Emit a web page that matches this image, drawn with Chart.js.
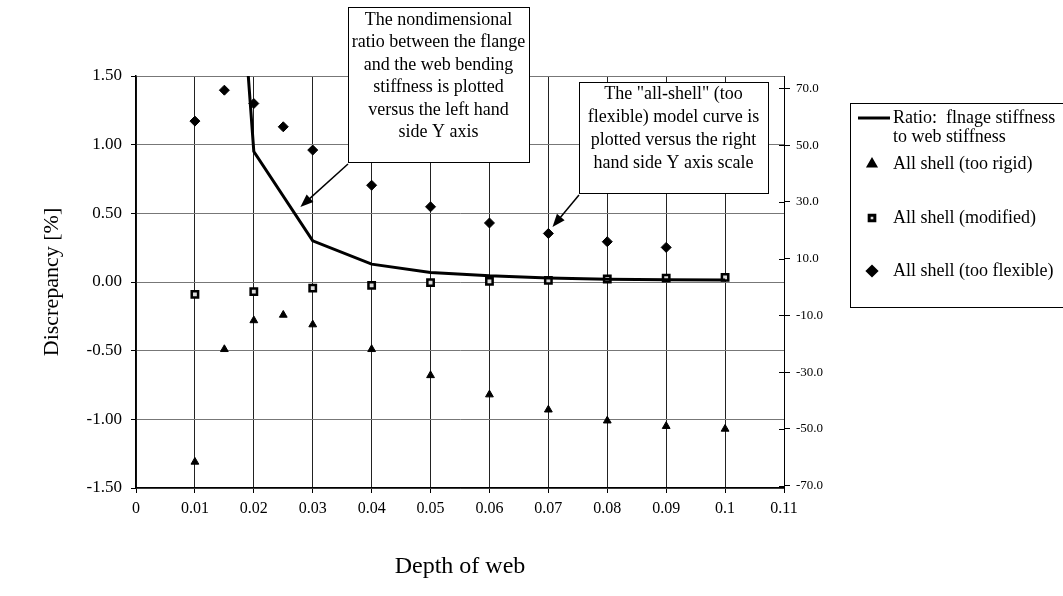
<!DOCTYPE html>
<html>
<head>
<meta charset="utf-8">
<script src="https://cdn.jsdelivr.net/npm/chart.js@4.4.1/dist/chart.umd.min.js"></script>
<style>
  html, body { margin: 0; padding: 0; background: #fff; }
</style>
</head>
<body>
<canvas id="myChart" width="1063" height="596"></canvas>
<script>
// axis ticks
const xTicks = [0, 0.01, 0.02, 0.03, 0.04, 0.05, 0.06, 0.07, 0.08, 0.09, 0.1, 0.11]
const leftTicks = [-1.5, -1, -0.5, 0, 0.5, 1, 1.5]
const rightTicks = [-70, -50, -30, -10, 10, 30, 50, 70]

// ratio flange / web stiffness (left axis)
const ratioDepth = [0.01, 0.02, 0.03, 0.04, 0.05, 0.06, 0.07, 0.08, 0.09, 0.1]
const ratioValues = [6.8, 0.95, 0.30, 0.13, 0.07, 0.045, 0.03, 0.02, 0.017, 0.015]

// all shell (too rigid) (left axis)
const rigidDepth = [0.01, 0.015, 0.02, 0.025, 0.03, 0.04, 0.05, 0.06, 0.07, 0.08, 0.09, 0.1]
const rigidValues = [-1.31, -0.49, -0.28, -0.24, -0.31, -0.49, -0.68, -0.82, -0.93, -1.01, -1.05, -1.07]

// all shell (modified) (left axis)
const modDepth = [0.01, 0.02, 0.03, 0.04, 0.05, 0.06, 0.07, 0.08, 0.09, 0.1]
const modValues = [-0.09, -0.07, -0.045, -0.025, -0.005, 0.005, 0.012, 0.022, 0.028, 0.034]

// all shell (too flexible) (right axis)
const flexDepth = [0.01, 0.015, 0.02, 0.025, 0.03, 0.04, 0.05, 0.06, 0.07, 0.08, 0.09]
const flexValues = [58.5, 69.4, 64.7, 56.5, 48.3, 35.9, 28.3, 22.6, 18.9, 16.0, 14.0]

const FONT = "'Liberation Serif', 'Times New Roman', serif"

function pts(xs, ys) {
    return xs.map((x, i) => ({ x: x, y: ys[i] }))
}

// callout boxes, arrow tips given in data units
const notes = [
    {
        lines: ['The nondimensional', 'ratio between the flange', 'and the web bending',
            'stiffness is plotted', 'versus the left hand', 'side Y axis'],
        box: [348, 7, 529, 162], lineY: 20, lineStep: 22.5,
        tip: { x: 0.0279, y: 0.546, axis: 'y' }
    },
    {
        lines: ['The "all-shell" (too', 'flexible) model curve is',
            'plotted versus the right', 'hand side Y axis scale'],
        box: [579, 82, 768, 193], lineY: 94, lineStep: 23,
        tip: { x: 0.0707, y: 21.2, axis: 'y2' }
    }
]

const calloutPlugin = {
    id: 'callouts',
    afterDraw(chart) {
        const c = chart.ctx
        const xs = chart.scales.x
        c.save()
        notes.forEach(n => {
            const [l, t, r, b] = n.box
            c.fillStyle = '#fff'
            c.fillRect(l, t, r - l, b - t)
            c.strokeStyle = '#000'
            c.lineWidth = 1
            c.strokeRect(l + 0.5, t + 0.5, r - l, b - t)
            c.fillStyle = '#000'
            c.font = '18px ' + FONT
            c.textAlign = 'center'
            c.textBaseline = 'middle'
            n.lines.forEach((s, i) => c.fillText(s, (l + r) / 2, n.lineY + i * n.lineStep))

            // arrow
            const tx = xs.getPixelForValue(n.tip.x)
            const ty = chart.scales[n.tip.axis].getPixelForValue(n.tip.y)
            const sx = l, sy = b + 2
            const ang = Math.atan2(ty - sy, tx - sx)
            c.beginPath()
            c.moveTo(sx, sy)
            c.lineTo(tx - Math.cos(ang) * 8, ty - Math.sin(ang) * 8)
            c.lineWidth = 1.5
            c.stroke()
            c.beginPath()
            c.moveTo(tx, ty)
            c.lineTo(tx - Math.cos(ang) * 13 + Math.sin(ang) * 5, ty - Math.sin(ang) * 13 - Math.cos(ang) * 5)
            c.lineTo(tx - Math.cos(ang) * 13 - Math.sin(ang) * 5, ty - Math.sin(ang) * 13 + Math.cos(ang) * 5)
            c.closePath()
            c.fill()
        })
        c.restore()
    }
}

const legendPlugin = {
    id: 'sideLegend',
    afterDraw(chart) {
        const c = chart.ctx
        const ds = chart.data.datasets
        c.save()

        // inner half of the right axis tick marks
        const r = chart.scales.y2
        c.strokeStyle = '#000'
        c.lineWidth = 1
        rightTicks.forEach(v => {
            const y = Math.round(r.getPixelForValue(v)) + 0.5
            c.beginPath()
            c.moveTo(r.left - 5, y)
            c.lineTo(r.left, y)
            c.stroke()
        })

        c.strokeRect(850.5, 103.5, 240, 204)
        c.fillStyle = '#000'
        c.font = '18px ' + FONT
        c.textAlign = 'left'
        c.textBaseline = 'middle'

        // line entry
        c.beginPath()
        c.moveTo(858, 118)
        c.lineTo(890, 118)
        c.lineWidth = 3
        c.stroke()
        c.fillText('Ratio:  flnage stiffness', 893, 118)
        c.fillText('to web stiffness', 893, 137)

        const rows = [[1, 164], [2, 218], [3, 271]]
        rows.forEach(([i, y]) => {
            const d = ds[i]
            c.fillStyle = d.backgroundColor
            c.strokeStyle = d.borderColor
            Chart.helpers.drawPoint(c, {
                pointStyle: d.pointStyle, radius: d.pointRadius - 0.5,
                borderWidth: d.pointBorderWidth || 1, rotation: 0
            }, 872, y)
            c.fillStyle = '#000'
            c.fillText(d.label, 893, y)
        })
        c.restore()
    }
}

const chartData = {
    type: 'scatter',
    data: {
        datasets: [{
            type: 'line',
            label: 'Ratio:  flnage stiffness to web stiffness',
            data: pts(ratioDepth, ratioValues),
            yAxisID: 'y',
            borderColor: '#000',
            borderWidth: 3,
            pointRadius: 0,
            tension: 0,
            order: 0
        }, {
            label: 'All shell (too rigid)',
            data: pts(rigidDepth, rigidValues),
            yAxisID: 'y',
            pointStyle: 'triangle',
            pointRadius: 4.5,
            pointBorderWidth: 1,
            backgroundColor: '#000',
            borderColor: '#000',
            order: 1
        }, {
            label: 'All shell (modified)',
            data: pts(modDepth, modValues),
            yAxisID: 'y',
            pointStyle: 'rect',
            pointRadius: 4.5,
            pointBorderWidth: 2.5,
            backgroundColor: '#ddd',
            borderColor: '#000',
            order: 2
        }, {
            label: 'All shell (too flexible)',
            data: pts(flexDepth, flexValues),
            yAxisID: 'y2',
            pointStyle: 'rectRot',
            pointRadius: 5,
            pointBorderWidth: 1,
            backgroundColor: '#000',
            borderColor: '#000',
            order: 3
        }]
    },
    options: {
        responsive: false,
        animation: false,
        layout: { padding: { top: 76, left: 0, right: 0, bottom: 0 } },
        plugins: {
            legend: { display: false },
            tooltip: { enabled: false }
        },
        scales: {
            x: {
                type: 'linear',
                min: 0, max: 0.11,
                afterBuildTicks: s => { s.ticks = xTicks.map(v => ({ value: v })) },
                afterFit: s => { s.height = 108 },
                grid: { color: '#222', lineWidth: 1, tickLength: 5, tickColor: '#000' },
                border: { color: '#000', width: 1.5 },
                ticks: {
                    color: '#000', padding: 6,
                    font: { family: FONT, size: 16 },
                    maxRotation: 0,
                    callback: v => String(Number(v.toFixed(2)))
                },
                title: {
                    display: true, text: 'Depth of web', color: '#000',
                    font: { family: FONT, size: 24 },
                    padding: { top: 0, bottom: 15 }
                }
            },
            y: {
                position: 'left',
                min: -1.5, max: 1.5,
                afterBuildTicks: s => { s.ticks = leftTicks.map(v => ({ value: v })) },
                afterFit: s => { s.width = 136 },
                grid: { color: '#777', lineWidth: 1, borderDash: [10, 3, 2, 3], tickLength: 5, tickColor: '#000' },
                border: { color: '#000', width: 1.5 },
                ticks: {
                    color: '#000', padding: 9,
                    font: { family: FONT, size: 17 },
                    callback: v => v.toFixed(2)
                },
                title: {
                    display: true, text: 'Discrepancy [%]', color: '#000',
                    font: { family: FONT, size: 22 },
                    padding: { top: 39, bottom: 0 }
                }
            },
            y2: {
                position: 'right',
                min: -70.8, max: 74.4,
                afterBuildTicks: s => { s.ticks = rightTicks.map(v => ({ value: v })) },
                afterFit: s => { s.width = 279 },
                grid: { drawOnChartArea: false, tickLength: 6, tickColor: '#000' },
                border: { color: '#000', width: 1 },
                ticks: {
                    color: '#000', padding: 6,
                    font: { family: FONT, size: 13 },
                    callback: v => v.toFixed(1)
                }
            }
        }
    },
    plugins: [legendPlugin, calloutPlugin]
}

const myChart = new Chart(document.getElementById('myChart'), chartData)
</script>
</body>
</html>
